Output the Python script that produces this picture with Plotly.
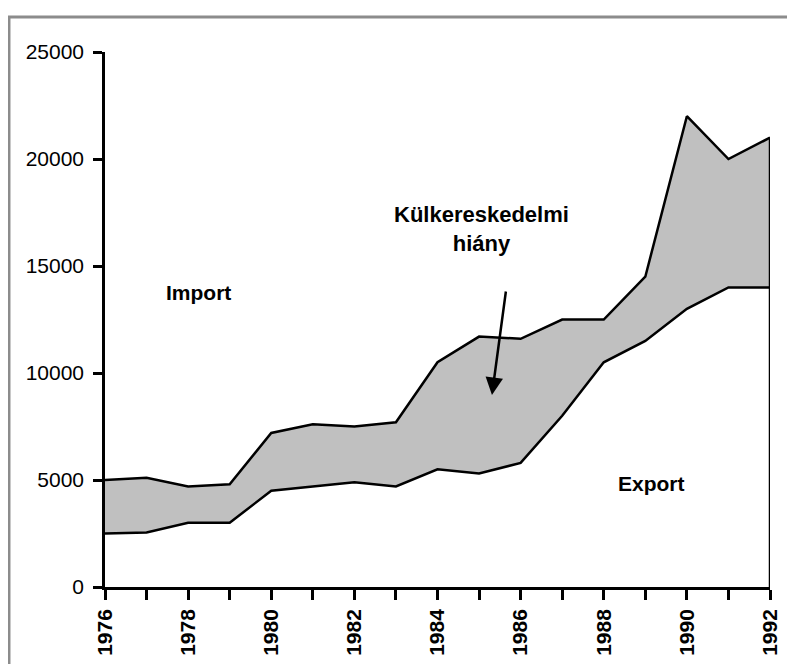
import plotly.graph_objects as go

years = list(range(1976, 1993))
imports = [5000, 5100, 4700, 4800, 7200, 7600, 7500, 7700, 10500, 11700, 11600,
           12500, 12500, 14500, 22000, 20000, 21000]
exports = [2500, 2550, 3000, 3000, 4500, 4700, 4900, 4700, 5500, 5300, 5800,
           8000, 10500, 11500, 13000, 14000, 14000]
y_ticks = [0, 5000, 10000, 15000, 20000, 25000]
y_tick_labels = [str(v) for v in y_ticks]
x_tick_labels = [str(y) if y % 2 == 0 else "" for y in years]

FONT = "Liberation Sans Narrow, Arial Narrow, Liberation Sans, Arial, sans-serif"

fig = go.Figure()
fig.add_trace(go.Scatter(x=years, y=imports, mode="lines", fill="tozeroy",
                         fillcolor="#c0c0c0", line=dict(color="black", width=2.5),
                         hoverinfo="skip", showlegend=False))
fig.add_trace(go.Scatter(x=years, y=exports, mode="lines", fill="tozeroy",
                         fillcolor="white", line=dict(color="black", width=2.5),
                         hoverinfo="skip", showlegend=False))
fig.add_trace(go.Scatter(x=[years[-1], years[-1]], y=[0, imports[-1]], mode="lines",
                         line=dict(color="black", width=2.5),
                         hoverinfo="skip", showlegend=False))

fig.update_layout(
    width=787, height=656,
    margin=dict(l=97, r=25, t=44, b=77),
    paper_bgcolor="white", plot_bgcolor="white",
    font=dict(family=FONT, color="black"),
    xaxis=dict(range=[years[0], years[-1]], tickvals=years, ticktext=x_tick_labels,
               tickangle=-90, ticks="outside", ticklen=10, tickwidth=2.5,
               tickcolor="black", showline=True, linecolor="black", linewidth=2.5,
               showgrid=False, zeroline=False, automargin=False, ticklabelstandoff=1,
               tickfont=dict(family=FONT, size=21, color="black", weight="bold")),
    yaxis=dict(range=[0, 25000], tickvals=y_ticks, ticktext=y_tick_labels,
               ticks="outside", ticklen=9,
               tickwidth=2.5, tickcolor="black", showline=True, linecolor="black",
               linewidth=2.5, showgrid=False, zeroline=False, automargin=False,
               ticklabelstandoff=5,
               tickfont=dict(family=FONT, size=21, color="black")),
    shapes=[dict(type="rect", xref="paper", yref="paper",
                 x0=-0.1444, x1=1.3, y0=-0.3, y1=1.0654,
                 line=dict(color="#8c8c8c", width=3), fillcolor="rgba(0,0,0,0)",
                 layer="below")],
)

bold = dict(family=FONT, size=21, color="black", weight="bold")
fig.add_annotation(x=1978.24, y=13785, text="Import", showarrow=False, font=bold)
fig.add_annotation(x=1989.16, y=4860, text="Export", showarrow=False, font=bold)
fig.add_annotation(x=1985.07, y=16730, text="Külkereskedelmi<br>hiány", showarrow=False,
                   font=dict(family=FONT, size=22, color="black", weight="bold"),
                   align="center")
fig.add_annotation(x=1985.31, y=8972, ax=1985.65, ay=13879, axref="x", ayref="y",
                   xref="x", yref="y", text="", showarrow=True, arrowhead=2,
                   arrowsize=1.4, arrowwidth=2.5, arrowcolor="black")

fig.write_html("out.html")
